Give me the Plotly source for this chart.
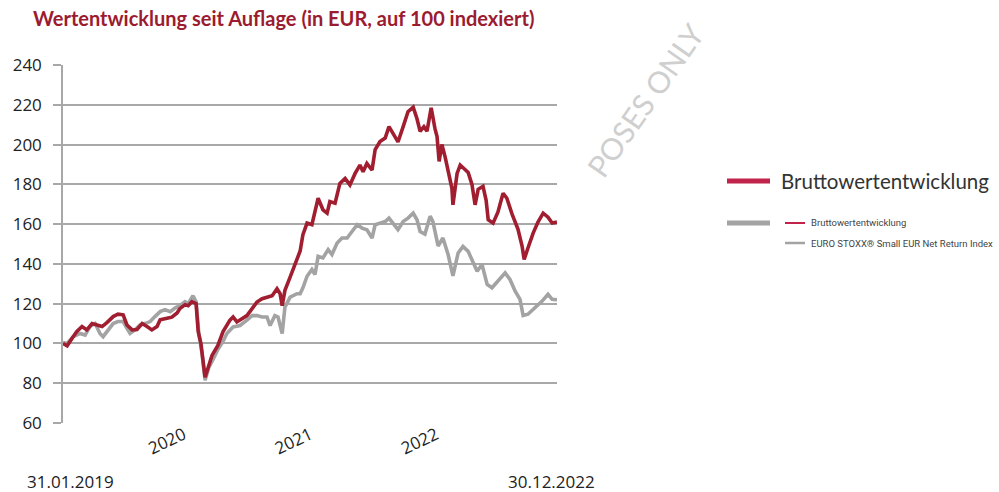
import plotly.graph_objects as go

# ---------------- data ----------------
fund_dates = [
    "2019-01-31","2019-02-12","2019-02-26","2019-03-12","2019-03-27","2019-04-10","2019-04-25","2019-05-09",
    "2019-05-24","2019-06-07","2019-06-25","2019-07-09","2019-07-24","2019-08-04","2019-08-19","2019-09-02",
    "2019-09-17","2019-10-01","2019-10-15","2019-10-30","2019-11-08","2019-11-28","2019-12-12","2019-12-27",
    "2020-01-04","2020-01-19","2020-01-28","2020-02-08","2020-02-20","2020-02-26","2020-03-05","2020-03-17",
    "2020-03-25","2020-04-06","2020-04-23","2020-05-08","2020-05-28","2020-06-06","2020-06-17","2020-07-02",
    "2020-07-16","2020-07-31","2020-08-14","2020-08-29","2020-09-12","2020-09-27","2020-10-11","2020-10-20",
    "2020-10-26","2020-11-03","2020-11-18","2020-12-02","2020-12-17","2020-12-25","2021-01-06","2021-01-20",
    "2021-01-29","2021-02-07","2021-02-21","2021-03-05","2021-03-13","2021-03-28","2021-04-11","2021-04-26",
    "2021-05-10","2021-05-25","2021-06-08","2021-06-17","2021-06-28","2021-07-13","2021-07-22","2021-08-05",
    "2021-08-20","2021-08-31","2021-09-12","2021-09-26","2021-10-11","2021-10-25","2021-11-09","2021-11-20",
    "2021-11-29","2021-12-10","2021-12-19","2021-12-31","2022-01-11","2022-01-17","2022-01-23","2022-01-31",
    "2022-02-09","2022-02-18","2022-03-01","2022-03-04","2022-03-16","2022-03-25","2022-04-08","2022-04-17",
    "2022-04-28","2022-05-07","2022-05-16","2022-05-30","2022-06-08","2022-06-14","2022-06-28","2022-07-12",
    "2022-07-27","2022-08-07","2022-08-22","2022-08-31","2022-09-08","2022-09-20","2022-09-26","2022-10-07",
    "2022-10-22","2022-11-05","2022-11-20","2022-12-04","2022-12-16","2022-12-30",
]
fund_values = [
    100, 98.8, 102.5, 106, 108.5, 106.8, 110, 109.3,
    108.5, 110.5, 113.5, 114.7, 114.4, 109.3, 106.8, 107,
    110, 108.5, 106.8, 108.5, 111.9, 112.7, 113.2, 115.3,
    117.5, 119.5, 119, 121, 120, 106, 100, 83,
    88, 94, 99, 106, 111.7, 113.3, 110.8, 112.5,
    114, 117.5, 120.8, 122.5, 123.3, 124, 127.5, 125,
    119, 126.7, 133.3, 140, 146.5, 154.7, 160.5, 159.7,
    166.3, 173, 167.2, 165.5, 171.3, 170.5, 180.5, 183,
    179.7, 185.5, 189.7, 186.3, 190.5, 187.2, 197.5, 201.5,
    203.3, 209, 205.5, 201.3, 209, 216.5, 218.8, 213,
    206.7, 209, 206.7, 218.5, 208, 204, 191.5, 200,
    194, 186, 178, 169.7, 185.5, 189.7, 187.5, 186,
    180, 169.7, 177.5, 179, 172, 162.2, 160.5, 166,
    175.5, 173, 165, 160.5, 157.5, 149, 142.2, 148,
    155.5, 161, 165.5, 163.5, 160.5, 161,
]

index_dates = [
    "2019-01-31","2019-02-12","2019-03-01","2019-03-21","2019-04-05","2019-04-19","2019-05-04","2019-05-18",
    "2019-05-27","2019-06-10","2019-06-25","2019-07-09","2019-07-24","2019-08-04","2019-08-13","2019-08-27",
    "2019-09-11","2019-09-25","2019-10-10","2019-10-24","2019-11-08","2019-11-22","2019-12-07","2019-12-21",
    "2020-01-04","2020-01-19","2020-01-28","2020-02-11","2020-02-20","2020-02-28","2020-03-08","2020-03-17",
    "2020-03-28","2020-04-09","2020-04-23","2020-05-08","2020-05-19","2020-06-06","2020-06-26","2020-07-16",
    "2020-07-31","2020-08-14","2020-08-29","2020-09-12","2020-09-21","2020-10-05","2020-10-14","2020-10-26",
    "2020-11-03","2020-11-18","2020-12-08","2020-12-17","2020-12-25","2021-01-06","2021-01-20","2021-01-29",
    "2021-02-07","2021-02-21","2021-03-08","2021-03-19","2021-04-03","2021-04-17","2021-05-02","2021-05-16",
    "2021-05-31","2021-06-14","2021-06-28","2021-07-13","2021-07-22","2021-08-05","2021-08-20","2021-08-31",
    "2021-09-12","2021-09-26","2021-10-11","2021-10-25","2021-11-09","2021-11-20","2021-11-29","2021-12-13",
    "2021-12-28","2022-01-05","2022-01-20","2022-02-03","2022-02-18","2022-03-04","2022-03-19","2022-04-02",
    "2022-04-17","2022-05-01","2022-05-13","2022-05-27","2022-06-11","2022-06-25","2022-07-12","2022-08-02",
    "2022-08-16","2022-08-31","2022-09-14","2022-09-23","2022-10-07","2022-10-28","2022-11-17","2022-12-04",
    "2022-12-16","2022-12-30",
]
index_values = [
    100.5, 100, 103.4, 105, 104.2, 108.5, 110, 105,
    103.4, 106.8, 110, 111, 111, 107.6, 105, 106.8,
    109.3, 110, 111, 113.5, 116, 117, 116, 117.8,
    119, 121, 120, 124, 121, 105, 95, 81.5,
    88, 92, 97, 101, 105, 108.3, 109, 111.7,
    114, 114, 113.3, 113.3, 109, 114, 113.3, 105,
    118.3, 123.3, 125, 125, 128, 133.8, 137.2, 134.7,
    143.8, 143, 147.2, 144.7, 150.5, 153, 153, 156.3,
    159.7, 158, 157.2, 153, 159.7, 160.5, 161.3, 163,
    160.5, 157.2, 161.3, 163, 165.5, 162.2, 156.3, 155,
    164, 161.3, 149, 153, 144.7, 134, 145.5, 148.8,
    146.3, 141.3, 136.3, 139.7, 129.7, 128, 131.3, 135.5,
    132.2, 126.3, 122.2, 114, 114.7, 118, 121.3, 124.7,
    122.2, 122,
]

year_ticks = ["2020-01-15", "2021-01-15", "2022-01-15"]
year_labels = ["2020", "2021", "2022"]
y_ticks = [60, 80, 100, 120, 140, 160, 180, 200, 220, 240]

title_text = "Wertentwicklung seit Auflage (in EUR, auf 100 indexiert)"
fund_name = "Bruttowertentwicklung"
index_name = "EURO STOXX® Small EUR Net Return Index"
start_label = "31.01.2019"
end_label = "30.12.2022"

# ---------------- layout helpers ----------------
W, H = 999, 492
L, R, T, B = 63, 442, 65, 69
PW, PH = W - L - R, H - T - B


def px(x):
    return (x - L) / PW


def py(y):
    return (H - B - y) / PH


RED = "#a11d30"
RED_LEG = "#c2234a"
GREY = "#a3a3a3"
TXT = "#222222"

fig = go.Figure()
fig.add_trace(go.Scatter(x=index_dates, y=index_values, mode="lines",
                         line=dict(color=GREY, width=3.6), name=index_name,
                         showlegend=False))
fig.add_trace(go.Scatter(x=fund_dates, y=fund_values, mode="lines",
                         line=dict(color=RED, width=3.6), name=fund_name,
                         showlegend=False))

fig.update_layout(
    width=W, height=H,
    margin=dict(l=L, r=R, t=T, b=B, pad=0),
    paper_bgcolor="white", plot_bgcolor="white",
    font=dict(family="Open Sans, Noto Sans, sans-serif", color=TXT, size=17),
    showlegend=False,
)
fig.update_xaxes(
    type="date", range=["2019-01-31", "2022-12-30"],
    tickvals=year_ticks, ticktext=year_labels, tickangle=-25,
    showgrid=False, zeroline=False, showline=False, ticks="",
    tickfont=dict(size=17, color=TXT), ticklabelstandoff=-2,
)
fig.update_yaxes(
    range=[60, 240], tickvals=y_ticks,
    showgrid=True, gridcolor="#a8a8a8", gridwidth=1.5,
    zeroline=False, showline=True, linecolor="#a8a8a8", linewidth=1.5,
    ticks="outside", ticklen=8, tickcolor="#a8a8a8", tickwidth=1.5,
    tickfont=dict(size=17, color=TXT), ticklabelstandoff=8,
)

ann = []
ann.append(dict(text=f"<b>{title_text}</b>", x=px(31), y=py(18), xref="paper", yref="paper",
                xanchor="left", yanchor="middle", showarrow=False,
                font=dict(family="Lato, Open Sans, sans-serif", size=20, color="#9b1b30")))
ann.append(dict(text=start_label, x=px(70), y=py(482), xref="paper", yref="paper",
                xanchor="center", yanchor="middle", showarrow=False,
                font=dict(family="Open Sans, sans-serif", size=17, color=TXT)))
ann.append(dict(text=end_label, x=px(551), y=py(482), xref="paper", yref="paper",
                xanchor="center", yanchor="middle", showarrow=False,
                font=dict(family="Open Sans, sans-serif", size=17, color=TXT)))
# legend texts
ann.append(dict(text=fund_name, x=px(779), y=py(181), xref="paper", yref="paper",
                xanchor="left", yanchor="middle", showarrow=False,
                font=dict(family="Lato, sans-serif", size=20.5, color="#333333")))
ann.append(dict(text=fund_name, x=px(809), y=py(222), xref="paper", yref="paper",
                xanchor="left", yanchor="middle", showarrow=False,
                font=dict(family="Roboto, sans-serif", size=9.5, color="#444444")))
ann.append(dict(text=index_name, x=px(809), y=py(243), xref="paper", yref="paper",
                xanchor="left", yanchor="middle", showarrow=False,
                font=dict(family="Roboto, sans-serif", size=9.5, color="#444444")))
# watermark
ann.append(dict(text="POSES ONLY", x=px(645), y=py(100), xref="paper", yref="paper",
                xanchor="center", yanchor="middle", showarrow=False, textangle=-55,
                font=dict(family="Lato, sans-serif", size=30, color="#cfcfcf")))
fig.update_layout(annotations=ann)

shapes = [
    dict(type="line", xref="paper", yref="paper", x0=px(727), x1=px(770), y0=py(181), y1=py(181),
         line=dict(color=RED_LEG, width=5)),
    dict(type="line", xref="paper", yref="paper", x0=px(727), x1=px(770), y0=py(223), y1=py(223),
         line=dict(color=GREY, width=5)),
    dict(type="line", xref="paper", yref="paper", x0=px(785), x1=px(805), y0=py(223), y1=py(223),
         line=dict(color=RED_LEG, width=2)),
    dict(type="line", xref="paper", yref="paper", x0=px(785), x1=px(805), y0=py(243), y1=py(243),
         line=dict(color=GREY, width=2.5)),
]
fig.update_layout(shapes=shapes)

fig.write_html("out.html", config={"displayModeBar": False},
               post_script="document.body.style.margin='0';document.body.style.overflow='hidden';")
